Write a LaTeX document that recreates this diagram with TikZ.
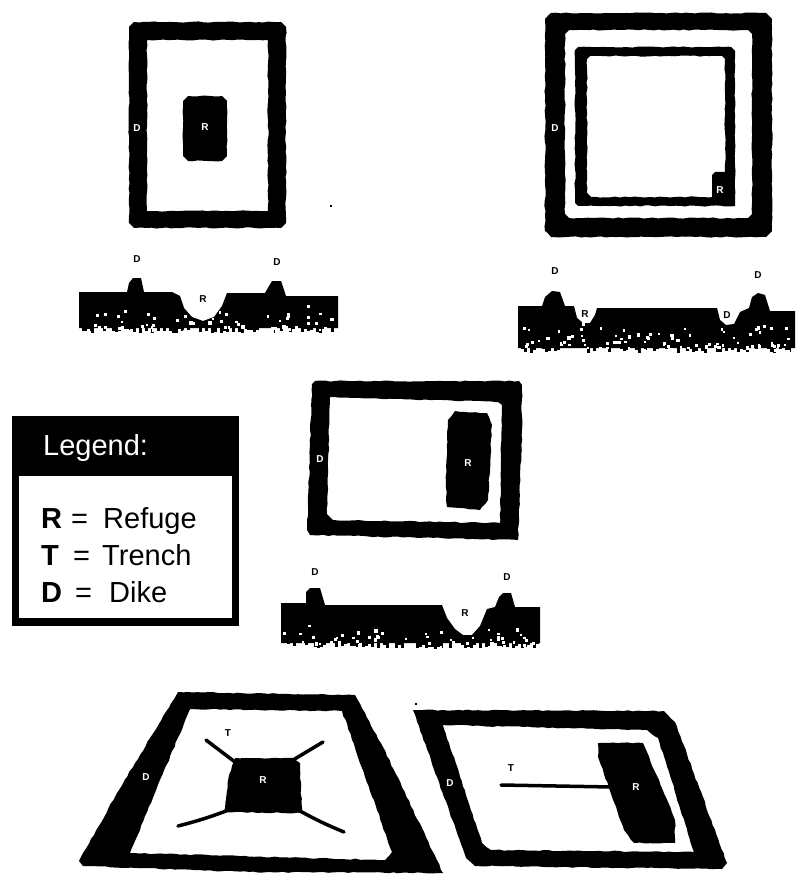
\documentclass[tikz,border=0pt]{standalone}
\usepackage{fontspec}
\setmainfont{Liberation Sans}
\usetikzlibrary{decorations.pathmorphing}
\newcommand{\soilnoise}[5]{% x1 x2 ytop ybot count
  \pgfmathtruncatemacro\nc{(#2-#1)/3}%
  \foreach \cn in {0,...,\nc}{%
    \pgfmathsetmacro\cx{#1+3*\cn}%
    \pgfmathsetmacro\jh{rnd*8}%
    \fill[black] (\cx,#4-1) rectangle (\cx+3,#4+\jh);%
  }%
  \foreach \ci in {1,...,#5}{%
    \pgfmathsetmacro\px{#1+rnd*(#2-#1-3)}%
    \pgfmathsetmacro\py{#3+(#4+5-#3)*sqrt(rnd)}%
    \pgfmathsetmacro\ps{2+rnd*1.5}%
    \fill[white] (\px,\py) rectangle +(\ps,\ps);%
  }%
}
\tikzset{
  rough/.style={decorate,decoration={random steps,segment length=5pt,amplitude=.6pt}},
  solidink/.style={fill=black,rough},
  frameink/.style={fill=black,even odd rule,rough},
  soilink/.style={fill=black},
  trenchink/.style={draw=black,line width=3.5pt,line cap=round},
  specks/.style={fill=black},
  invlabel/.style={text=white,font=\bfseries\fontsize{10}{10}\selectfont,inner sep=0pt},
  inklabel/.style={text=black,font=\bfseries\fontsize{10}{10}\selectfont,inner sep=0pt},
  legendtext/.style={anchor=base west,inner sep=0pt,font=\fontsize{29}{29}\selectfont},
  legendbold/.style={anchor=base west,inner sep=0pt,font=\bfseries\fontsize{29}{29}\selectfont}
}
\begin{document}
\begin{tikzpicture}[x=1pt,y=-1pt]
\pgfmathsetseed{4711}
\useasboundingbox (0,0) rectangle (800,874);
\fill[white] (0,0) rectangle (800,874);

% Panel 1
\fill[frameink] (134,22) -- (281,22) -- (286,27) -- (286,223) -- (281,228) -- (134,228) -- (129,223) -- (129,27) -- cycle
  (147,40) rectangle (268,211);
\fill[solidink] (188,96) -- (222,96) -- (227,101) -- (227,156) -- (222,161) -- (188,161) -- (183,156) -- (183,101) -- cycle;
\node[invlabel] (p1r) at (205,127) {R};
\node[invlabel] (p1d) at (137,128) {D};
\fill[specks] (330,205) rectangle +(2,2);

% Panel 1 profile
\fill[soilink] (79,328) -- (79,292) -- (127,292) -- (129,283) -- (133,278) -- (141,278) -- (144,292)
  -- (172,292) -- (180,296) -- (184,308) -- (192,317) -- (203,321) -- (214,317) -- (222,306) -- (227,293)
  -- (265,293) -- (269,286) -- (272,281) -- (281,281) -- (286,296) -- (338,296) -- (338,328) -- cycle;
\soilnoise{79}{335}{302}{325}{60}
\node[inklabel] (p1t) at (203,299) {R};
\node[inklabel] (p1a) at (137,259) {D};
\node[inklabel] (p1b) at (277,262) {D};

% Panel 2
\fill[frameink] (551,13) -- (766,13) -- (772,19) -- (772,231) -- (766,237) -- (551,237) -- (545,231) -- (545,19) -- cycle
  (569,30) -- (748,30) -- (752,34) -- (752,214) -- (748,218) -- (569,218) -- (565,214) -- (565,34) -- cycle;
\fill[frameink] (578,47) -- (731,47) -- (735,51) -- (735,206) -- (578,206) -- (575,203) -- (575,50) -- cycle
  (590,56) -- (722,56) -- (725,59) -- (725,197) -- (591,197) -- (587,193) -- (587,59) -- cycle;
\fill[black] (715,172) -- (727,172) -- (727,199) -- (712,199) -- (712,175) -- cycle;
\node[invlabel] (p2r) at (720,190) {R};
\node[invlabel] (p2d) at (555,128) {D};

% Panel 2 profile
\fill[soilink] (518,348) -- (518,306) -- (542,306) -- (545,297) -- (552,291) -- (560,292) -- (565,306)
  -- (574,306) -- (577,318) -- (583,323) -- (590,323) -- (595,315) -- (597,308)
  -- (717,308) -- (720,320) -- (726,325) -- (734,324) -- (740,312) -- (749,308) -- (752,297) -- (758,293) -- (765,295) -- (770,311)
  -- (795,311) -- (795,348) -- cycle;
\soilnoise{518}{792}{318}{345}{85}
\node[inklabel] (p2a) at (555,271) {D};
\node[inklabel] (p2b) at (758,275) {D};
\node[inklabel] (p2t) at (585,314) {R};
\node[inklabel] (p2u) at (727,315) {D};

% Legend
\fill[black] (12,416) rectangle (239,626);
\fill[white] (19,476) rectangle (232,618);
\node[legendtext,text=white] (lgt) at (43,455) {Legend:};
\node[legendbold] (l1a) at (41,528) {R};
\node[legendtext] (l1b) at (71,528) {=};
\node[legendtext] (l1c) at (103,528) {Refuge};
\node[legendbold] (l2a) at (41,565) {T};
\node[legendtext] (l2b) at (73,565) {=};
\node[legendtext] (l2c) at (102,565) {Trench};
\node[legendbold] (l3a) at (41,602) {D};
\node[legendtext] (l3b) at (75,602) {=};
\node[legendtext] (l3c) at (109,602) {Dike};

% Panel 3
\fill[frameink] (315,381) -- (519,381) -- (522,385) -- (522,430) -- (518,540) -- (310,535) -- (307,530) -- (308,512) -- (310,445) -- (312,384) -- cycle
  (330,397) -- (498,402) -- (502,405) -- (500,523) -- (333,520) -- (327,514) -- cycle;
\fill[solidink] (448,420) -- (455,411) -- (487,413) -- (492,425) -- (488,500) -- (480,510) -- (447,507) -- (446,482) -- cycle;
\node[invlabel] (p3r) at (468,463) {R};
\node[invlabel] (p3d) at (320,459) {D};

% Panel 3 profile
\fill[soilink] (281,643) -- (281,603) -- (306,603) -- (306,592) -- (310,588) -- (320,588) -- (325,605)
  -- (442,605) -- (447,618) -- (455,629) -- (463,635) -- (472,635) -- (480,626) -- (487,609)
  -- (495,607) -- (499,597) -- (503,593) -- (511,593) -- (515,607) -- (540,607) -- (540,643) -- cycle;
\soilnoise{281}{537}{622}{641}{55}
\node[inklabel] (p3a) at (315,572) {D};
\node[inklabel] (p3b) at (507,577) {D};
\node[inklabel] (p3t) at (465,613) {R};

% Panel 4 left
\fill[frameink] (178,692) -- (355,695) -- (383,747) -- (443,873) -- (250,872) -- (83,866) -- (79,861) -- (117,793) -- cycle
  (190,709) -- (342,711) -- (392,852) -- (385,860) -- (130,853) -- cycle;
\fill[solidink] (235,758) -- (293,758) -- (300,763) -- (302,813) -- (224,812) -- (229,775) -- cycle;
\coordinate (tla) at (206,740);
\coordinate (tlb) at (235,762);
\coordinate (tra) at (323,742);
\coordinate (trb) at (293,760);
\coordinate (bla) at (178,826);
\coordinate (blb) at (226,811);
\coordinate (bra) at (344,832);
\coordinate (brb) at (300,811);
\draw[trenchink] (tla) -- (tlb);
\draw[trenchink] (tra) -- (trb);
\draw[trenchink] (bla) to[bend right=3] (blb);
\draw[trenchink] (bra) to[bend left=3] (brb);
\node[inklabel] (p4t) at (228,733) {T};
\node[invlabel] (p4r) at (263,780) {R};
\node[invlabel] (p4d) at (146,777) {D};
\fill[specks] (415,703) rectangle +(2,2);

% Panel 4 right
\fill[frameink] (413,710) -- (664,711) -- (675,722) -- (727,863) -- (722,869) -- (475,866) -- (466,858) -- cycle
  (443,725) -- (647,730) -- (658,738) -- (694,852) -- (491,850) -- (482,843) -- cycle;
\fill[solidink] (598,743) -- (643,743) -- (647,752) -- (675,820) -- (675,843) -- (634,843) -- (624,830) -- (598,757) -- cycle;
\coordinate (tsa) at (501,785);
\coordinate (tsb) at (612,787);
\draw[trenchink] (tsa) -- (tsb);
\node[inklabel] (p5t) at (511,768) {T};
\node[invlabel] (p5r) at (636,787) {R};
\node[invlabel] (p5d) at (450,783) {D};
\end{tikzpicture}
\end{document}
